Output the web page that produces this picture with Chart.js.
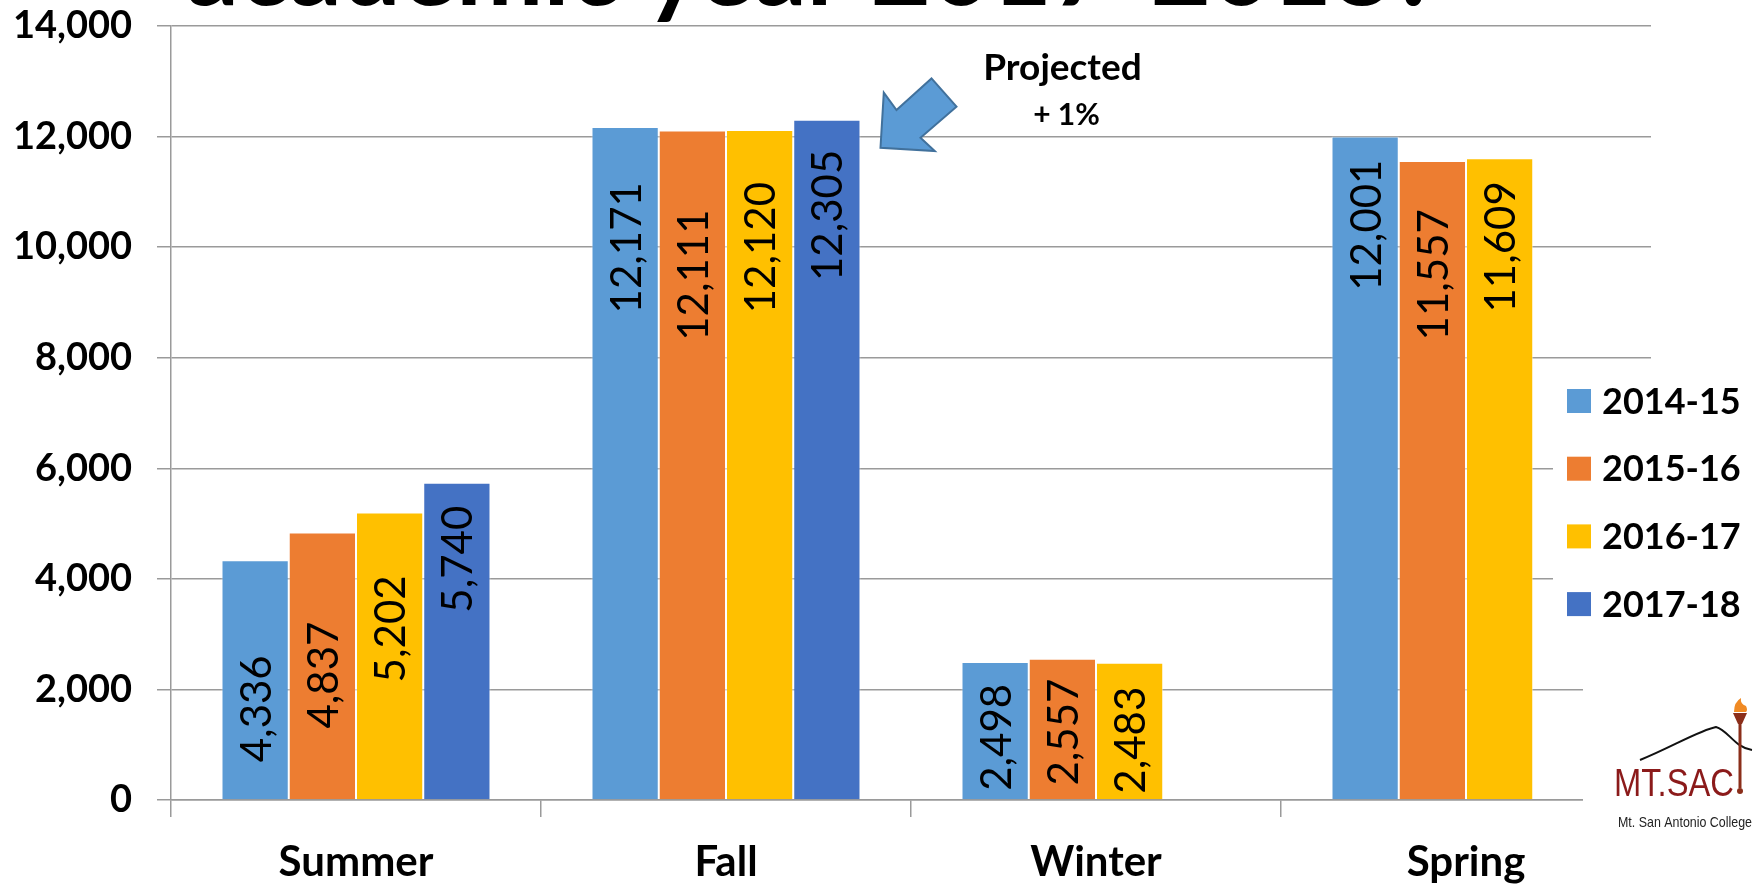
<!DOCTYPE html>
<html>
<head>
<meta charset="utf-8">
<script src="https://cdn.jsdelivr.net/npm/chart.js@4.4.1/dist/chart.umd.min.js"></script>
<style>
  html, body { margin: 0; padding: 0; background: #ffffff; }
  #wrap { position: relative; width: 1760px; height: 886px; overflow: hidden; }
  canvas { display: block; }
</style>
</head>
<body>
<div id="wrap"><canvas id="c" width="1760" height="886"></canvas></div>
<script>
// ---- data ----
const terms = ['Summer', 'Fall', 'Winter', 'Spring'];
const seriesNames = ['2014-15', '2015-16', '2016-17', '2017-18'];
const y2014_15 = [4336, 12171, 2498, 12001];
const y2015_16 = [4837, 12111, 2557, 11557];
const y2016_17 = [5202, 12120, 2483, 11609];
const y2017_18 = [5740, 12305, null, null];
const yTicks = [0, 2000, 4000, 6000, 8000, 10000, 12000, 14000];
const titleText = 'academic year 2017-2018?';
const noteLines = ['Projected', '+ 1%'];

// ---- styles ----
const colors = ['#5B9BD5', '#ED7D31', '#FFC000', '#4472C4'];
// distance (px) between bar top and the end of its rotated value label
const labelGap = [
  [95, 55, 22, 23],
  [89, 79, 20, 48],
  [63, 52, 24, 23],
  [23, 30, 0, 0]
];
const gridColor = '#9a9a9a';
const fmt = v => v.toLocaleString('en-US');

const seriesValues = [y2014_15, y2015_16, y2016_17, y2017_18];

const decorPlugin = {
  id: 'decor',
  afterDatasetsDraw(chart) {
    const ctx = chart.ctx;
    ctx.save();
    ctx.fillStyle = '#000';
    ctx.font = '42px Lato';
    ctx.textAlign = 'right';
    ctx.textBaseline = 'middle';
    chart.data.datasets.forEach((ds, di) => {
      const meta = chart.getDatasetMeta(di);
      meta.data.forEach((bar, i) => {
        const v = ds.data[i];
        if (v === null || v === undefined) return;
        ctx.save();
        ctx.translate(bar.x + 2, bar.y + labelGap[di][i]);
        ctx.rotate(-Math.PI / 2);
        ctx.fillText(fmt(v), 0, 0);
        ctx.restore();
      });
    });
    ctx.restore();
  },
  afterDraw(chart) {
    const ctx = chart.ctx;
    // clipped title
    ctx.save();
    ctx.fillStyle = '#000';
    ctx.font = 'bold 104px Lato';
    ctx.textAlign = 'left';
    ctx.textBaseline = 'alphabetic';
    ctx.fillText(titleText, 186, 5);
    ctx.restore();

    // arrow pointing to the projected bar
    const meta = chart.getDatasetMeta(3);
    const bar = meta.data[1];
    const tx = bar.x + bar.width / 2 + 20;
    const ty = bar.y + 28;
    const pts = [[0, 0], [3.3, -55], [16, -37.6], [51, -69.3], [76, -41], [40, -10], [54.3, 3.4]];
    ctx.save();
    ctx.beginPath();
    pts.forEach((p, k) => { k ? ctx.lineTo(tx + p[0], ty + p[1]) : ctx.moveTo(tx + p[0], ty + p[1]); });
    ctx.closePath();
    ctx.fillStyle = '#5B9BD5';
    ctx.fill();
    ctx.lineWidth = 2;
    ctx.strokeStyle = '#41719C';
    ctx.stroke();
    ctx.fillStyle = '#000';
    ctx.textAlign = 'center';
    ctx.textBaseline = 'alphabetic';
    ctx.font = 'bold 37px Lato';
    ctx.fillText(noteLines[0], tx + 182, ty - 68);
    ctx.font = 'bold 30px Lato';
    ctx.fillText(noteLines[1], tx + 186, ty - 23);
    ctx.restore();

    // legend (white box over the plot)
    ctx.save();
    ctx.fillStyle = '#fff';
    ctx.fillRect(1553, 372, 207, 266);
    ctx.font = 'bold 36px Lato';
    ctx.textAlign = 'left';
    ctx.textBaseline = 'middle';
    chart.data.datasets.forEach((ds, di) => {
      const cy = 401 + di * 67.7;
      ctx.fillStyle = ds.backgroundColor;
      ctx.fillRect(1567, cy - 12, 24, 24);
      ctx.fillStyle = '#000';
      ctx.fillText(ds.label, 1602, cy + 1);
    });
    ctx.restore();

    // logo block
    ctx.save();
    ctx.fillStyle = '#fff';
    ctx.fillRect(1583, 680, 177, 200);
    ctx.beginPath();
    ctx.moveTo(1640, 760);
    ctx.bezierCurveTo(1670, 748, 1700, 730, 1716, 727);
    ctx.bezierCurveTo(1728, 730, 1735, 748, 1752, 750);
    ctx.lineWidth = 2;
    ctx.strokeStyle = '#111';
    ctx.stroke();
    ctx.strokeStyle = '#8B2E1A';
    ctx.lineWidth = 3;
    ctx.beginPath();
    ctx.moveTo(1740, 722);
    ctx.lineTo(1740, 788);
    ctx.stroke();
    ctx.fillStyle = '#8B2E1A';
    ctx.beginPath();
    ctx.moveTo(1733, 713); ctx.lineTo(1747, 713); ctx.lineTo(1742, 724); ctx.lineTo(1738, 724);
    ctx.closePath(); ctx.fill();
    ctx.beginPath(); ctx.arc(1740, 791, 3, 0, Math.PI * 2); ctx.fill();
    ctx.fillStyle = '#F08A24';
    ctx.beginPath();
    ctx.moveTo(1734, 712); ctx.quadraticCurveTo(1734, 702, 1741, 698);
    ctx.quadraticCurveTo(1740, 704, 1746, 706); ctx.quadraticCurveTo(1748, 710, 1746, 712);
    ctx.closePath(); ctx.fill();
    ctx.fillStyle = '#8B1A1A';
    ctx.font = '38px "Liberation Sans", sans-serif';
    ctx.textAlign = 'left';
    ctx.textBaseline = 'alphabetic';
    ctx.fillText('MT.SAC', 1614, 796, 120);
    ctx.fillStyle = '#222';
    ctx.font = '15px "Liberation Sans", sans-serif';
    ctx.fillText('Mt. San Antonio College', 1618, 827, 134);
    ctx.restore();
  }
};

function build() {
  new Chart(document.getElementById('c'), {
    type: 'bar',
    data: {
      labels: terms,
      datasets: seriesNames.map((name, i) => ({
        label: name,
        data: seriesValues[i],
        backgroundColor: colors[i],
        borderColor: 'rgba(255,255,255,0.55)',
        borderWidth: 1,
        barPercentage: 1.0,
        categoryPercentage: 0.727
      }))
    },
    options: {
      responsive: false,
      animation: false,
      devicePixelRatio: 1,
      layout: { padding: { top: 26, right: 109, bottom: 0, left: 0 } },
      plugins: {
        legend: { display: false },
        tooltip: { enabled: false },
        title: { display: false }
      },
      scales: {
        x: {
          grid: { offset: true, drawOnChartArea: false, tickLength: 17, color: gridColor, lineWidth: 1.5 },
          border: { color: gridColor, width: 1.5 },
          ticks: { color: '#000', font: { family: 'Lato', weight: 'bold', size: 42 }, padding: 20 },
          afterFit(s) { s.height = 86; s.paddingLeft = 0; s.paddingRight = 0; }
        },
        y: {
          min: 0,
          max: 14000,
          afterBuildTicks(s) { s.ticks = yTicks.map(v => ({ value: v })); },
          grid: { color: gridColor, lineWidth: 1.5, tickLength: 14 },
          border: { color: gridColor, width: 1.5 },
          ticks: {
            color: '#000',
            font: { family: 'Lato', weight: 'bold', size: 38 },
            padding: 25,
            callback: v => fmt(v)
          },
          afterFit(s) { s.width = 171; s.paddingTop = 0; s.paddingBottom = 0; }
        }
      }
    },
    plugins: [decorPlugin]
  });
}

Promise.all([
  document.fonts.load('bold 40px Lato'),
  document.fonts.load('42px Lato')
]).then(build, build);
</script>
</body>
</html>
